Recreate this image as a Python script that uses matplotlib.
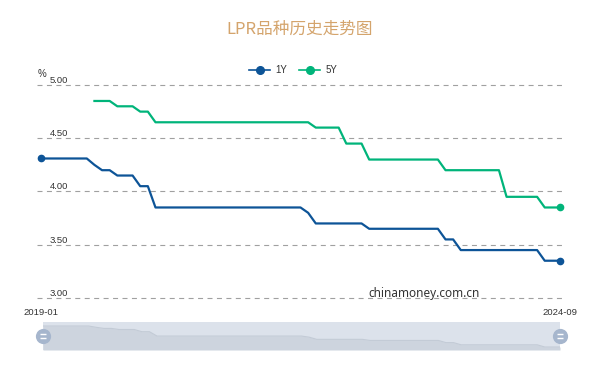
import matplotlib
matplotlib.use("Agg")
import matplotlib.pyplot as plt
import numpy as np
import pandas as pd
from matplotlib.lines import Line2D

plt.rcParams['font.family'] = ['Noto Sans CJK SC', 'DejaVu Sans']

months = [p.strftime('%Y-%m') for p in pd.period_range('2019-01', '2024-09', freq='M')]

lpr_1y = [4.31, 4.31, 4.31, 4.31, 4.31, 4.31, 4.31, 4.25, 4.20, 4.20, 4.15, 4.15,
          4.15, 4.05, 4.05, 3.85, 3.85, 3.85, 3.85, 3.85, 3.85, 3.85, 3.85, 3.85,
          3.85, 3.85, 3.85, 3.85, 3.85, 3.85, 3.85, 3.85, 3.85, 3.85, 3.85, 3.80,
          3.70, 3.70, 3.70, 3.70, 3.70, 3.70, 3.70, 3.65, 3.65, 3.65, 3.65, 3.65,
          3.65, 3.65, 3.65, 3.65, 3.65, 3.55, 3.55, 3.45, 3.45, 3.45, 3.45, 3.45,
          3.45, 3.45, 3.45, 3.45, 3.45, 3.45, 3.35, 3.35, 3.35]
lpr_5y = [None, None, None, None, None, None, None, 4.85, 4.85, 4.85, 4.80, 4.80,
          4.80, 4.75, 4.75, 4.65, 4.65, 4.65, 4.65, 4.65, 4.65, 4.65, 4.65, 4.65,
          4.65, 4.65, 4.65, 4.65, 4.65, 4.65, 4.65, 4.65, 4.65, 4.65, 4.65, 4.65,
          4.60, 4.60, 4.60, 4.60, 4.45, 4.45, 4.45, 4.30, 4.30, 4.30, 4.30, 4.30,
          4.30, 4.30, 4.30, 4.30, 4.30, 4.20, 4.20, 4.20, 4.20, 4.20, 4.20, 4.20,
          4.20, 3.95, 3.95, 3.95, 3.95, 3.95, 3.85, 3.85, 3.85]
series_names = ['1Y', '5Y']
y_ticks = [3.0, 3.5, 4.0, 4.5, 5.0]
y_labels = ['3.00', '3.50', '4.00', '4.50', '5.00']

W, H = 606, 372
fig = plt.figure(figsize=(W / 100, H / 100), dpi=100)

def px_axes(l, t, r, b):
    return fig.add_axes([l / W, 1 - b / H, (r - l) / W, (b - t) / H])

x = np.arange(len(months))
y1 = np.array(lpr_1y, dtype=float)
y5 = np.array([np.nan if v is None else v for v in lpr_5y], dtype=float)

c1 = '#0d5497'
c5 = '#00b47a'
latin = ['Liberation Sans', 'DejaVu Sans']

# main axes
ax = px_axes(37, 83, 565, 300)
pxm = 519 / (len(months) - 1)
ax.set_xlim(-4 / pxm, len(months) - 1 + 5 / pxm)
pyu = 213 / 2.0
ax.set_ylim(3.0 - 2 / pyu, 5.0 + 2 / pyu)
for s in ax.spines.values():
    s.set_visible(False)

ax.set_yticks(y_ticks)
ax.set_yticklabels(y_labels, family=latin)
ax.yaxis.grid(True, color='#a0a0a0', linestyle=(0, (4.5, 4)), linewidth=0.8)
ax.tick_params(axis='y', length=0, pad=-13 * 0.72, labelsize=6.8, labelcolor='#333333')
for lbl in ax.get_yticklabels():
    lbl.set_horizontalalignment('left')
    lbl.set_verticalalignment('bottom')

ax.set_xticks([0, len(months) - 1])
ax.set_xticklabels([months[0], months[-1]], family=latin)
ax.tick_params(axis='x', length=0, pad=6, labelsize=6.8, labelcolor='#333333')

last = len(months) - 1
ax.plot(x, y1, color=c1, lw=1.6, marker='o', markersize=4.5, markevery=[0, last],
        label=series_names[0], solid_joinstyle='round', zorder=3)
ax.plot(x, y5, color=c5, lw=1.6, marker='o', markersize=4.5, markevery=[last],
        label=series_names[1], solid_joinstyle='round', zorder=3)

handles = [Line2D([], [], color=c1, lw=1.2, marker='o', markersize=5.5),
           Line2D([], [], color=c5, lw=1.2, marker='o', markersize=5.5)]
fig.legend(handles, series_names, loc='center', bbox_to_anchor=(293 / W, 1 - 70 / H),
           ncol=2, frameon=False, prop={'family': latin, 'size': 7},
           handlelength=2.2, handletextpad=0.5, columnspacing=1.2, labelcolor='#333333')

fig.text(300 / W, 1 - 29 / H, 'LPR品种历史走势图', ha='center', va='center',
         fontsize=12, color='#d4a46c')
fig.text(38 / W, 1 - 74 / H, '%', ha='left', va='center', fontsize=7, color='#333333',
         family=latin)
fig.text(424 / W, 1 - 294 / H, 'chinamoney.com.cn', ha='center', va='center',
         fontsize=8.5, color='#333333', family=['Noto Sans', 'DejaVu Sans'])

# data zoom slider
ax2 = px_axes(43, 322, 560, 350)
ax2.set_xlim(0, last)
ppx = 0.96 / 21
ax2.set_ylim(3.35 - 3 * ppx, 4.31 + 4 * ppx)
ax2.set_facecolor('#dce2eb')
ax2.fill_between(x, y1, 3.35 - 3 * ppx, color='#cdd4de', lw=0)
ax2.plot(x, y1, color='#c3cbd6', lw=0.8)
for s in ax2.spines.values():
    s.set_visible(False)
ax2.set_xticks([])
ax2.set_yticks([])
ymid = (3.35 - 3 * ppx + 4.31 + 4 * ppx) / 2
ax2.scatter([0, last], [ymid, ymid], s=120, color='#a6b6cd', zorder=5, clip_on=False, lw=0)
for dy in (-2 * ppx, 2 * ppx):
    ax2.plot([0, last], [ymid + dy, ymid + dy], ls='none', marker='_', markersize=5,
             markeredgewidth=1.0, color='white', zorder=6, clip_on=False)

fig.savefig('out.png', dpi=100)
